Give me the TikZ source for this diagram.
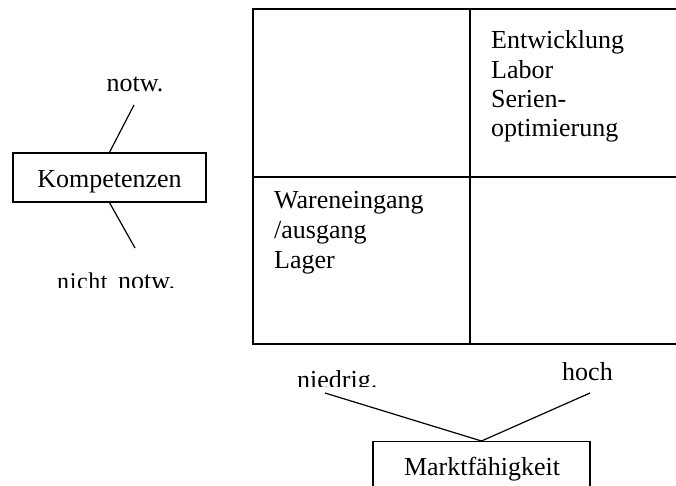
\documentclass[tikz,border=0pt]{standalone}
\usepackage{fontspec}
\setmainfont{Liberation Serif}
\begin{document}
\begin{tikzpicture}[x=1pt,y=-1pt,
  txt/.style={inner sep=0pt,font=\fontsize{26}{29}\selectfont},
  smalltxt/.style={inner sep=0pt,font=\fontsize{24}{27}\selectfont},
  box/.style={draw,line width=1.3pt,inner sep=0pt},
  conn/.style={line width=1.2pt},
  grid/.style={line width=1.5pt}]
\useasboundingbox (0,0) rectangle (676,486);
\clip (0,0) rectangle (676,486);
% matrix
\draw[grid] (700,9) -- (253,9) -- (253,344) -- (700,344);
\draw[grid] (470,9) -- (470,344);
\draw[grid] (253,177) -- (700,177);
\node[txt,anchor=base west] (e1) at (491,49) {Entwicklung};
\node[txt,anchor=base west] (e2) at (491,79) {Labor};
\node[txt,anchor=base west] (e3) at (491,108) {Serien-};
\node[txt,anchor=base west] (e4) at (491,137) {optimierung};
\node[txt,anchor=base west] (w1) at (274,208) {Wareneingang};
\node[txt,anchor=base west] (w2) at (274,238) {/ausgang};
\node[txt,anchor=base west] (w3) at (274,268) {Lager};
% Kompetenzen
\node[box,minimum width=193pt,minimum height=49pt] (komp) at (109.5,177.5) {};
\node[txt,anchor=base] (kt) at (109.5,188) {Kompetenzen};
\coordinate (kn) at (134,105);
\coordinate (kb) at (135,248);
\draw[conn] (kn) -- (komp.north);
\draw[conn] (komp.south) -- (kb);
\node[txt,anchor=base] (notw) at (135,92) {notw.};
\begin{scope}
\clip (0,0) rectangle (676,287.5);
\node[smalltxt,anchor=base west] (nicht) at (57,289) {n\kern0.6pt i\kern0.6pt c\kern0.6pt h\kern0.6pt t};
\node[txt,anchor=base west] (notw2) at (118,289) {notw.};
\end{scope}
% Marktfaehigkeit
\node[box,minimum width=217pt,minimum height=70pt,anchor=north] (markt) at (481.5,441) {};
\node[txt,anchor=base] (mt) at (482,475) {Marktfähigkeit};
\coordinate (ml) at (325,393);
\coordinate (mr) at (590,393);
\draw[conn] (ml) -- (markt.north) -- (mr);
\begin{scope}
\clip (0,0) rectangle (676,386.5);
\node[txt,anchor=base west] (nied) at (297,388) {niedrig.};
\end{scope}
\node[txt,anchor=base west] (hoch) at (562,380) {hoch};
\end{tikzpicture}
\end{document}
